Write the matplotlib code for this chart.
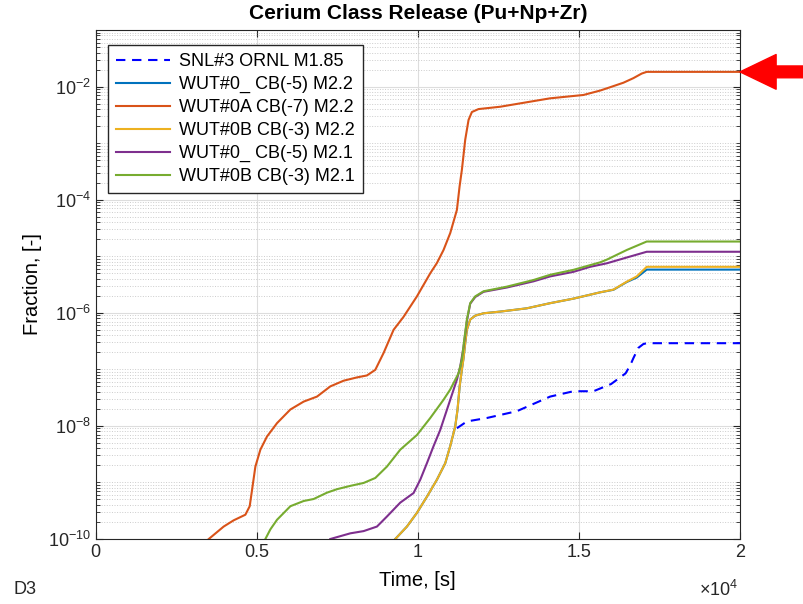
import numpy as np
import matplotlib.pyplot as plt
from matplotlib.ticker import LogLocator, NullFormatter, FuncFormatter, MultipleLocator

plt.rcParams['font.family'] = ['Liberation Sans', 'DejaVu Sans']
plt.rcParams['mathtext.fontset'] = 'custom'
plt.rcParams['mathtext.rm'] = 'Liberation Sans'
plt.rcParams['mathtext.default'] = 'regular'

# release fractions vs time [s]
t_snl = [11215, 11525, 12145, 13075, 14109, 14832, 15452, 16000, 16450, 16600, 16692, 16847,
         17000, 17105, 20000]
f_snl = [9.1e-9, 1.2e-8, 1.38e-8, 1.82e-8, 3.3e-8, 4.1e-8, 4.1e-8, 5.5e-8, 8.5e-8, 1.2e-7,
         1.58e-7, 2.4e-7, 2.8e-7, 2.9e-7, 2.9e-7]

t_0a_22 = [3514, 3977, 4287, 4651, 4785, 4858, 4961, 5116, 5322, 5633, 6047, 6460, 6874, 7287,
           7700, 8113, 8423, 8682, 8940, 9250, 9560, 9974, 10388, 10595, 10800, 11008, 11215,
           11297, 11370, 11473, 11576, 11680, 11886, 12558, 14108, 15141, 15659, 15866, 16382,
           16692, 16951, 17105, 20000]
f_0a_22 = [1.0e-10, 1.66e-10, 2.14e-10, 2.69e-10, 3.8e-10, 7.4e-10, 1.91e-9, 3.8e-9, 6.5e-9,
           1.12e-8, 1.95e-8, 2.69e-8, 3.3e-8, 5.0e-8, 6.3e-8, 7.2e-8, 7.8e-8, 9.8e-8, 1.95e-7,
           5.0e-7, 8.5e-7, 1.95e-6, 5.0e-6, 7.6e-6, 1.29e-5, 2.57e-5, 6.6e-5, 1.7e-4, 3.4e-4,
           1.15e-3, 2.57e-3, 3.55e-3, 4.0e-3, 4.4e-3, 6.2e-3, 7.1e-3, 8.5e-3, 9.3e-3, 1.17e-2,
           1.41e-2, 1.7e-2, 1.82e-2, 1.82e-2]

t_0b_22 = [9302, 9664, 9974, 10284, 10595, 10853, 11008, 11163, 11235, 11300, 11370, 11421,
           11473, 11525, 11628, 11783, 12041, 12558, 13385, 14109, 14832, 15659, 16073, 16486,
           16796, 17105, 20000]
f_0b_22 = [1.0e-10, 1.66e-10, 2.9e-10, 5.6e-10, 1.12e-9, 2.19e-9, 4.4e-9, 9.8e-9, 1.95e-8,
           5.0e-8, 1.0e-7, 1.58e-7, 2.9e-7, 5.0e-7, 7.6e-7, 8.9e-7, 9.8e-7, 1.05e-6, 1.2e-6,
           1.48e-6, 1.78e-6, 2.3e-6, 2.57e-6, 3.55e-6, 4.4e-6, 6.5e-6, 6.5e-6]

t_0_22 = t_0b_22
f_0_22 = [1.0e-10, 1.66e-10, 2.9e-10, 5.6e-10, 1.12e-9, 2.19e-9, 4.4e-9, 9.8e-9, 1.95e-8,
          5.0e-8, 1.0e-7, 1.58e-7, 2.9e-7, 5.0e-7, 7.6e-7, 8.9e-7, 9.8e-7, 1.05e-6, 1.2e-6,
          1.48e-6, 1.78e-6, 2.3e-6, 2.55e-6, 3.5e-6, 4.2e-6, 5.8e-6, 5.8e-6]

t_0_21 = [7287, 7907, 8320, 8734, 9044, 9457, 9870, 10078, 10284, 10491, 10698, 11008, 11215,
          11318, 11421, 11525, 11628, 11783, 12041, 12765, 13592, 14109, 14832, 15349, 15866,
          16486, 17105, 20000]
f_0_21 = [1.0e-10, 1.26e-10, 1.38e-10, 1.66e-10, 2.5e-10, 4.4e-10, 6.5e-10, 1.12e-9, 2.19e-9,
          4.4e-9, 8.5e-9, 2.9e-8, 6.6e-8, 1.12e-7, 2.5e-7, 7.2e-7, 1.45e-6, 1.9e-6, 2.35e-6,
          2.8e-6, 3.6e-6, 4.4e-6, 5.3e-6, 6.5e-6, 7.5e-6, 9.5e-6, 1.2e-5, 1.2e-5]

t_0b_21 = [5271, 5426, 5633, 6047, 6460, 6770, 7183, 7493, 7907, 8320, 8682, 9044, 9457, 9974,
           10388, 10800, 11008, 11266, 11370, 11442, 11525, 11628, 11783, 12041, 12765, 13592,
           14109, 14832, 15659, 15866, 16486, 17105, 20000]
f_0b_21 = [1.0e-10, 1.48e-10, 2.19e-10, 3.8e-10, 4.7e-10, 5.1e-10, 6.6e-10, 7.6e-10, 8.7e-10,
           9.8e-10, 1.2e-9, 1.91e-9, 3.8e-9, 6.9e-9, 1.38e-8, 2.9e-8, 4.4e-8, 8.5e-8, 1.48e-7,
           3.3e-7, 7.6e-7, 1.48e-6, 1.95e-6, 2.4e-6, 2.9e-6, 3.8e-6, 4.7e-6, 5.75e-6, 7.8e-6,
           8.7e-6, 1.29e-5, 1.82e-5, 1.82e-5]

fig = plt.figure(figsize=(8.04, 6.04), dpi=100)
ax = fig.add_axes([0.1188, 0.1076, 0.8016, 0.8427])

lw = 1.5
ax.plot(t_snl, f_snl, color='b', ls='--', dashes=(4.5, 3.2), lw=lw, label='SNL#3 ORNL M1.85')
ax.plot(t_0_22, f_0_22, color='#0072BD', lw=lw, label='WUT#0_ CB(-5) M2.2')
ax.plot(t_0a_22, f_0a_22, color='#D95319', lw=lw, label='WUT#0A CB(-7) M2.2')
ax.plot(t_0b_22, f_0b_22, color='#EDB120', lw=lw, label='WUT#0B CB(-3) M2.2')
ax.plot(t_0_21, f_0_21, color='#7E2F8E', lw=lw, label='WUT#0_ CB(-5) M2.1')
ax.plot(t_0b_21, f_0b_21, color='#77AC30', lw=lw, label='WUT#0B CB(-3) M2.1')

ax.set_yscale('log')
ax.set_xlim(0, 2e4)
ax.set_ylim(1e-10, 1e-1)
ax.set_yticks([1e-10, 1e-8, 1e-6, 1e-4, 1e-2])
ax.yaxis.set_minor_locator(LogLocator(base=10, subs=np.arange(1, 10), numticks=30))
ax.yaxis.set_minor_formatter(NullFormatter())
ax.xaxis.set_major_locator(MultipleLocator(5000))
ax.xaxis.set_major_formatter(FuncFormatter(lambda v, pos: f'{v / 1e4:g}'))

ax.grid(which='major', color='#dddddd', lw=0.8)
ax.grid(which='minor', axis='y', color='#cccccc', ls=':', lw=0.7)
ax.set_axisbelow(True)
ax.tick_params(which='both', direction='in', top=True, right=True, colors='#262626', labelsize=13)
ax.tick_params(which='major', length=5)
ax.tick_params(which='minor', length=3)
for s in ax.spines.values():
    s.set_color('#262626')
    s.set_linewidth(0.8)

ax.set_title('Cerium Class Release (Pu+Np+Zr)', fontsize=15, fontweight='bold', pad=8)
ax.set_xlabel('Time, [s]', fontsize=14.5, labelpad=7)
ax.set_ylabel('Fraction, [-]', fontsize=14.5)

ax.legend(loc='upper left', bbox_to_anchor=(0.0194, 0.9705), borderaxespad=0, fontsize=13,
          fancybox=False, framealpha=1, edgecolor='#262626', handlelength=3.0,
          labelspacing=0.33, handletextpad=0.5, borderpad=0.45)

# arrow pointing at the final WUT#0A level
ax.annotate('', xy=(t_0a_22[-1], f_0a_22[-1]), xytext=(66, 0), textcoords='offset pixels',
            annotation_clip=False,
            arrowprops=dict(facecolor='red', edgecolor='red', width=8.5, headwidth=25,
                            headlength=26, shrink=0))

fig.text(738 / 804, 1 - 590 / 604, r'$\times10^{4}$', ha='right', va='center', fontsize=13,
         color='#262626')
fig.text(14 / 804, 1 - 589.5 / 604, 'D3', ha='left', va='center', fontsize=13, color='#262626')

fig.savefig('out.png', dpi=100)
